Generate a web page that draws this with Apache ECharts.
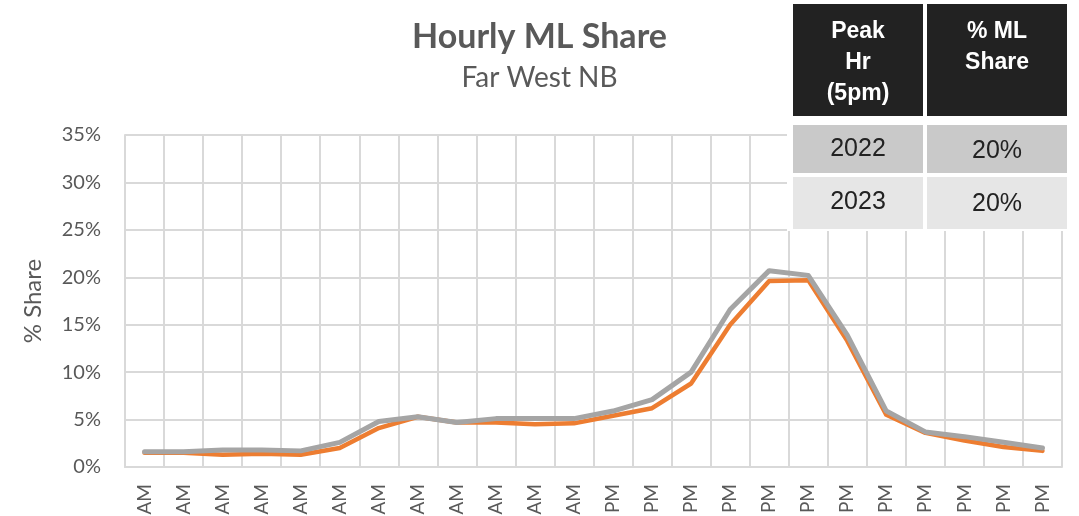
<!DOCTYPE html>
<html>
<head>
<meta charset="utf-8">
<script src="https://cdn.jsdelivr.net/npm/echarts@6/dist/echarts.min.js"></script>
<style>
  html, body { margin: 0; padding: 0; background: #fff; }
  #chart { width: 1079px; height: 516px; }
</style>
</head>
<body>
<div id="chart"></div>
<script>
// 数据
var hours = ['12 AM', '1 AM', '2 AM', '3 AM', '4 AM', '5 AM', '6 AM', '7 AM', '8 AM', '9 AM', '10 AM', '11 AM',
             '12 PM', '1 PM', '2 PM', '3 PM', '4 PM', '5 PM', '6 PM', '7 PM', '8 PM', '9 PM', '10 PM', '11 PM'];
var share2022 = [1.5, 1.5, 1.3, 1.4, 1.3, 2.0, 4.1, 5.3, 4.7, 4.7, 4.5, 4.6,
                 5.4, 6.2, 8.8, 15.0, 19.6, 19.7, 13.3, 5.5, 3.6, 2.8, 2.1, 1.7];
var share2023 = [1.6, 1.6, 1.8, 1.8, 1.7, 2.6, 4.8, 5.3, 4.7, 5.1, 5.1, 5.1,
                 5.9, 7.1, 10.0, 16.6, 20.7, 20.2, 13.9, 5.9, 3.7, 3.2, 2.6, 2.0];
var tableHead = [['Peak', 'Hr', '(5pm)'], ['% ML', 'Share']];
var tableYears = ['2022', '2023'];
var tablePeak = ['20%', '20%'];

(function(){
    var myChart = echarts.init(document.getElementById('chart'));
    var txt = '#595959';
    var cellFont = '25px "Liberation Sans", Arial, sans-serif';
    var headFont = 'bold 23px "Liberation Sans", Arial, sans-serif';

    var option = {
        backgroundColor: '#fff',
        animation: false,
        title: {
            text: 'Hourly ML Share',
            subtext: 'Far West NB',
            left: 'center',
            top: 15,
            itemGap: 10,
            textStyle: { color: txt, fontSize: 34, fontWeight: 'bold', fontFamily: 'Lato' },
            subtextStyle: { color: txt, fontSize: 28, fontFamily: 'Lato' }
        },
        grid: { left: 125, right: 17, top: 135, bottom: 49, containLabel: false, outerBoundsMode: 'none' },
        xAxis: {
            type: 'category',
            data: hours,
            boundaryGap: true,
            axisLine: { lineStyle: { color: '#d9d9d9', width: 2 } },
            axisTick: { show: false },
            splitLine: { show: true, lineStyle: { color: '#d9d9d9', width: 2 } },
            axisLabel: { rotate: 90, interval: 0, color: txt, fontSize: 19, fontFamily: 'Lato', margin: 17 }
        },
        yAxis: {
            type: 'value',
            min: 0, max: 35, interval: 5,
            name: '% Share',
            nameLocation: 'middle',
            nameGap: 80,
            nameTextStyle: { color: txt, fontSize: 24, fontFamily: 'Lato' },
            axisLine: { show: true, lineStyle: { color: '#d9d9d9', width: 2 } },
            axisTick: { show: false },
            splitLine: { lineStyle: { color: '#d9d9d9', width: 2 } },
            axisLabel: { formatter: '{value}%', color: txt, fontSize: 20, fontFamily: 'Lato', margin: 24 }
        },
        series: [
            {
                name: '2022', type: 'line', data: share2022, showSymbol: false,
                lineStyle: { color: '#ED7D31', width: 4.5, cap: 'round', join: 'round' }
            },
            {
                name: '2023', type: 'line', data: share2023, showSymbol: false,
                lineStyle: { color: '#A5A5A5', width: 5, cap: 'round', join: 'round' }
            }
        ],
        graphic: [
            { type: 'rect', shape: { x: 787, y: 0, width: 285, height: 231 }, style: { fill: '#fff' }, z: 10 },
            { type: 'rect', shape: { x: 793, y: 4, width: 130, height: 112 }, style: { fill: '#222' }, z: 11 },
            { type: 'rect', shape: { x: 927, y: 4, width: 140, height: 112 }, style: { fill: '#222' }, z: 11 },
            { type: 'rect', shape: { x: 793, y: 125, width: 130, height: 48 }, style: { fill: '#c9c9c9' }, z: 11 },
            { type: 'rect', shape: { x: 927, y: 125, width: 140, height: 48 }, style: { fill: '#c9c9c9' }, z: 11 },
            { type: 'rect', shape: { x: 793, y: 177, width: 130, height: 52 }, style: { fill: '#e6e6e6' }, z: 11 },
            { type: 'rect', shape: { x: 927, y: 177, width: 140, height: 52 }, style: { fill: '#e6e6e6' }, z: 11 },
            { type: 'text', x: 858, y: 63, z: 12, style: { text: tableHead[0].join('\n'), font: headFont, fill: '#fff', align: 'center', verticalAlign: 'middle', lineHeight: 31 } },
            { type: 'text', x: 997, y: 47, z: 12, style: { text: tableHead[1].join('\n'), font: headFont, fill: '#fff', align: 'center', verticalAlign: 'middle', lineHeight: 31 } },
            { type: 'text', x: 858, y: 149, z: 12, style: { text: tableYears[0], font: cellFont, fill: '#222', align: 'center', verticalAlign: 'middle' } },
            { type: 'text', x: 997, y: 151, z: 12, style: { text: tablePeak[0], font: cellFont, fill: '#222', align: 'center', verticalAlign: 'middle' } },
            { type: 'text', x: 858, y: 202, z: 12, style: { text: tableYears[1], font: cellFont, fill: '#222', align: 'center', verticalAlign: 'middle' } },
            { type: 'text', x: 997, y: 204, z: 12, style: { text: tablePeak[1], font: cellFont, fill: '#222', align: 'center', verticalAlign: 'middle' } }
        ]
    };
    myChart.setOption(option);
})();
</script>
</body>
</html>
